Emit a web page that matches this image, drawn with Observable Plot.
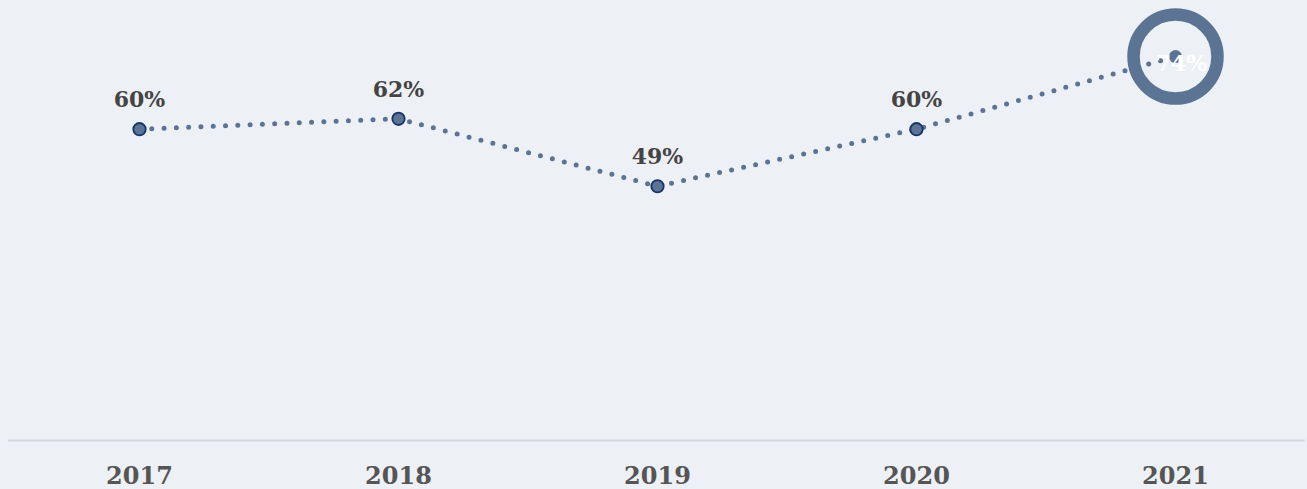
<!DOCTYPE html>
<html>
<head>
<meta charset="utf-8">
<script src="https://cdn.jsdelivr.net/npm/d3@7"></script>
<script src="https://cdn.jsdelivr.net/npm/@observablehq/plot@0.6"></script>
<style>
  html, body { margin: 0; padding: 0; background: #edf0f5; }
  #chart { width: 1307px; height: 489px; overflow: hidden; }
  svg { overflow: visible; }
</style>
</head>
<body>
<div id="chart"></div>
<script>
const years = ["2017", "2018", "2019", "2020", "2021"];
const values = [60, 62, 49, 60, 74];
const labels = ["60%", "62%", "49%", "60%", "74%"];
const highlightYear = "2021";

const data = years.map((y, i) => ({year: y, value: values[i], label: labels[i]}));
const normal = data.filter(d => d.year !== highlightYear);
const highlight = data.filter(d => d.year === highlightYear);

const lineColor = "#5b7494";
const font = "'DejaVu Serif', 'Liberation Serif', Georgia, serif";

const chart = Plot.plot({
  width: 1307,
  height: 489,
  marginTop: 0,
  marginBottom: 49,
  marginLeft: 8,
  marginRight: 2,
  style: {background: "transparent", fontFamily: font, overflow: "visible"},
  x: {type: "point", domain: years, padding: 0.5, label: null},
  y: {domain: [0, 84.8], axis: null},
  marks: [
    Plot.ruleY([0], {stroke: "#d3d7dd", strokeWidth: 2}),
    Plot.axisX({
      tickSize: 0, tickPadding: 26, fontSize: 24, fontWeight: "bold",
      fill: "#555555", label: null, fontFamily: font
    }),
    Plot.line(data, {
      x: "year", y: "value", stroke: lineColor, strokeWidth: 5,
      strokeDasharray: "0 12.3", strokeLinecap: "round"
    }),
    Plot.dot(highlight, {
      x: "year", y: "value", r: 42, fill: "none", stroke: lineColor, strokeWidth: 12.5
    }),
    Plot.dot(normal, {
      x: "year", y: "value", r: 6.2, fill: lineColor, stroke: "#15346a", strokeWidth: 1.8
    }),
    Plot.dot(highlight, {
      x: "year", y: "value", r: 6.5, fill: lineColor
    }),
    Plot.text(normal, {
      x: "year", y: "value", text: "label", dy: -22, lineAnchor: "bottom",
      fontSize: 22, fontWeight: "bold", fill: "#444444", fontFamily: font
    }),
    Plot.text(highlight, {
      x: "year", y: "value", text: "label", dx: 6, dy: 14, lineAnchor: "bottom",
      fontSize: 22, fontWeight: "bold", fill: "#ffffff", fontFamily: font
    })
  ]
});
document.getElementById("chart").appendChild(chart);
</script>
</body>
</html>
